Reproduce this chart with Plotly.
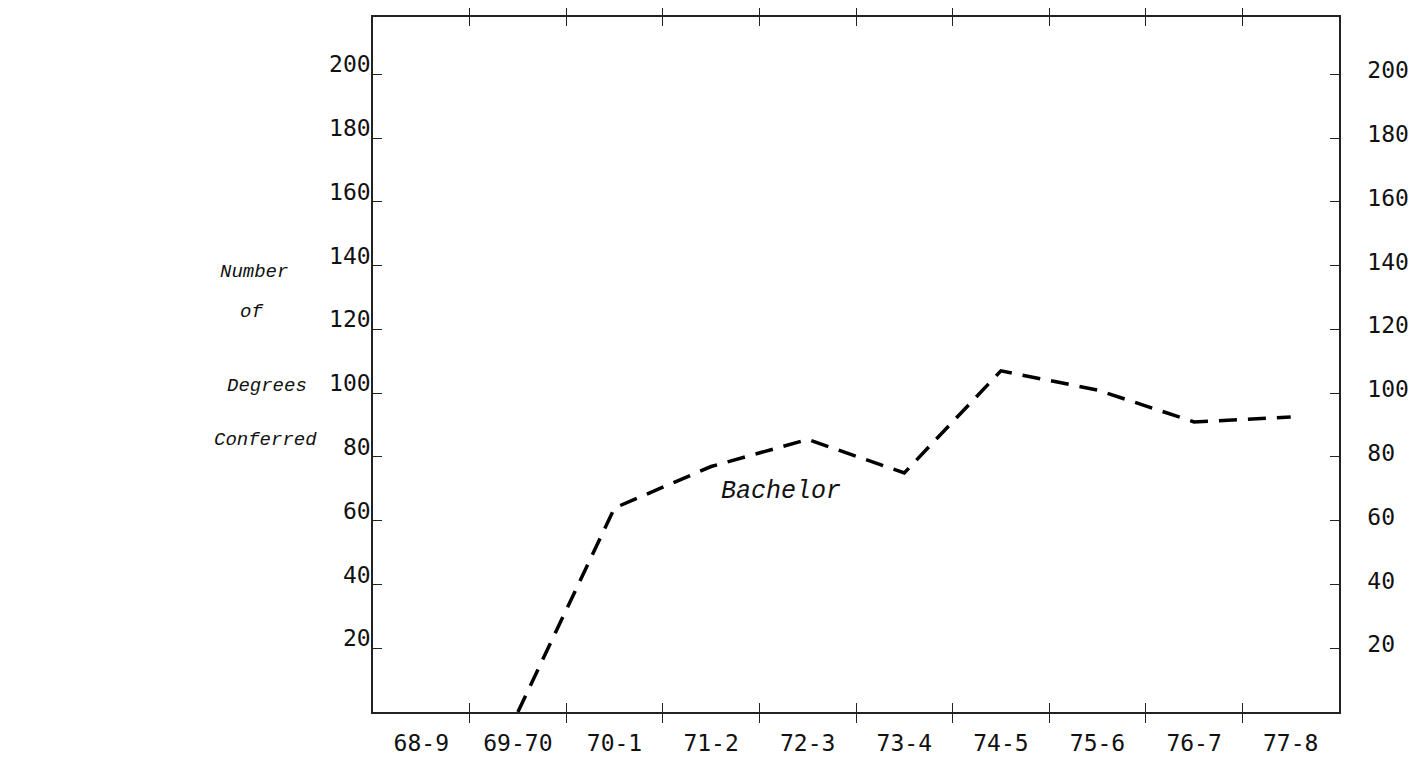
import plotly.graph_objects as go

# ---- data ----
school_years = ["68-9", "69-70", "70-1", "71-2", "72-3", "73-4", "74-5", "75-6", "76-7", "77-8"]
bachelor_years = ["69-70", "70-1", "71-2", "72-3", "73-4", "74-5", "75-6", "76-7", "77-8"]
bachelor_degrees = [0, 64, 77, 85.5, 75, 107, 101, 91, 92.5]
y_ticks = [20, 40, 60, 80, 100, 120, 140, 160, 180, 200]
y_title_lines = ["Number", "of", "Degrees", "Conferred"]

label_font = dict(family="DejaVu Sans Mono", size=23, color="#111")
ital_font = dict(family="Liberation Mono", size=19, color="#111", style="italic")

fig = go.Figure()
fig.add_trace(go.Scatter(
    x=bachelor_years, y=bachelor_degrees, mode="lines",
    line=dict(color="black", width=3.5, dash="18px,11px"),
    showlegend=False, hoverinfo="skip",
))
# invisible trace to drive the right-hand axis
fig.add_trace(go.Scatter(
    x=bachelor_years, y=bachelor_degrees, mode="lines", yaxis="y2",
    line=dict(color="rgba(0,0,0,0)"), showlegend=False, hoverinfo="skip",
))

ymax = 218
# page body has an 8px margin: the figure is drawn at (8, 8)
fig.update_layout(
    width=1408, height=755,
    margin=dict(l=365, r=70, t=7, b=31),
    paper_bgcolor="white", plot_bgcolor="white",
    xaxis=dict(
        type="category", categoryorder="array", categoryarray=school_years,
        range=[-0.5, 9.5], tickson="boundaries",
        ticks="inside", ticklen=9, tickcolor="#222", tickwidth=1,
        showline=True, linecolor="#222", linewidth=1.5, mirror="allticks",
        showgrid=False, zeroline=False,
        tickfont=label_font, ticklabelstandoff=10,
    ),
    yaxis=dict(
        range=[0, ymax], tickvals=y_ticks, ticktext=[str(v) for v in y_ticks],
        ticks="inside", ticklen=9, tickcolor="#222", tickwidth=1,
        showline=True, linecolor="#222", linewidth=1.5, mirror=True,
        showgrid=False, zeroline=False,
        tickfont=label_font, ticklabelshift=-10, ticklabelstandoff=-4,
    ),
    yaxis2=dict(
        range=[0, ymax], tickvals=y_ticks, ticktext=[str(v) for v in y_ticks],
        overlaying="y", side="right",
        ticks="inside", ticklen=9, tickcolor="#222", tickwidth=1,
        showline=True, linecolor="#222", linewidth=1.5,
        showgrid=False, zeroline=False,
        tickfont=label_font, ticklabelshift=-4, ticklabelstandoff=22,
    ),
)

# y-axis title lines (stacked italic typewriter text)
title_pos = [(-0.123, 0.633), (-0.126, 0.576), (-0.110, 0.469), (-0.111, 0.391)]
for txt, (px, py) in zip(y_title_lines, title_pos):
    fig.add_annotation(text=txt, x=px, y=py, xref="paper", yref="paper",
                       showarrow=False, font=ital_font, xanchor="center", yanchor="middle")

fig.add_annotation(text="Bachelor", x=0.422, y=0.317, xref="paper", yref="paper",
                   showarrow=False,
                   font=dict(family="Liberation Mono", size=25, color="#111", style="italic"),
                   xanchor="center", yanchor="middle")

fig.write_html("out.html")
